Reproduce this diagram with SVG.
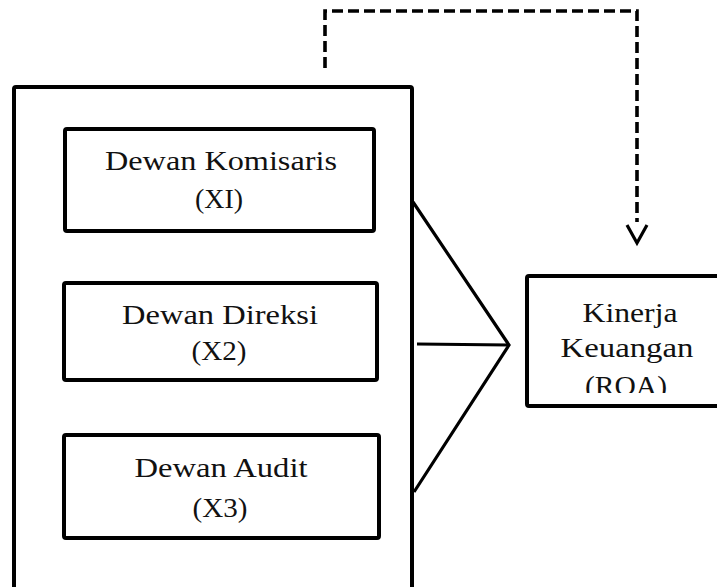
<svg xmlns="http://www.w3.org/2000/svg" width="717" height="587" viewBox="0 0 717 587">
<style>
  .box { fill: #fff; stroke: #000; stroke-width: 4; }
  .t { font-family: "Liberation Serif", "DejaVu Serif", serif; font-size: 28px; fill: #111; text-anchor: middle; }
  .ln { fill: none; stroke: #000; stroke-width: 3.2; stroke-linecap: butt; }
  .dash { fill: none; stroke: #000; stroke-width: 3.6; stroke-dasharray: 11 5; }
</style>
<defs>
  <clipPath id="roaClip"><rect x="520" y="270" width="200" height="123"/></clipPath>
</defs>
<rect width="717" height="587" fill="#fff"/>

<g id="outer">
  <rect class="box" x="14" y="87" width="398" height="520" rx="2"/>
</g>

<g id="komisaris">
  <rect class="box" x="65" y="129" width="309" height="102" rx="2"/>
  <text class="t" x="221" y="170" textLength="232" lengthAdjust="spacingAndGlyphs">Dewan Komisaris</text>
  <text class="t" x="219" y="208" textLength="48" lengthAdjust="spacingAndGlyphs">(XI)</text>
</g>

<g id="direksi">
  <rect class="box" x="64" y="283" width="313" height="97" rx="2"/>
  <text class="t" x="220" y="324" textLength="196" lengthAdjust="spacingAndGlyphs">Dewan Direksi</text>
  <text class="t" x="219" y="360" textLength="55" lengthAdjust="spacingAndGlyphs">(X2)</text>
</g>

<g id="audit">
  <rect class="box" x="64" y="435" width="315" height="103" rx="2"/>
  <text class="t" x="221" y="477" textLength="173" lengthAdjust="spacingAndGlyphs">Dewan Audit</text>
  <text class="t" x="220" y="517" textLength="55" lengthAdjust="spacingAndGlyphs">(X3)</text>
</g>

<g id="roa">
  <rect class="box" x="527" y="276" width="200" height="130" rx="2"/>
  <g clip-path="url(#roaClip)">
    <text class="t" x="630" y="322" textLength="95" lengthAdjust="spacingAndGlyphs">Kinerja</text>
    <text class="t" x="627" y="357" textLength="133" lengthAdjust="spacingAndGlyphs">Keuangan</text>
    <text class="t" x="626" y="395" textLength="82" lengthAdjust="spacingAndGlyphs">(ROA)</text>
  </g>
</g>

<g id="connectors">
  <path class="ln" d="M413 202 L509 345 L414 492"/>
  <path class="ln" d="M417 344 L509 345"/>
  <path class="dash" d="M325 68 L325 11 L637 11 L637 222"/>
  <path class="ln" stroke-width="3.6" d="M627 225 L637 243 L647 225"/>
</g>
</svg>
